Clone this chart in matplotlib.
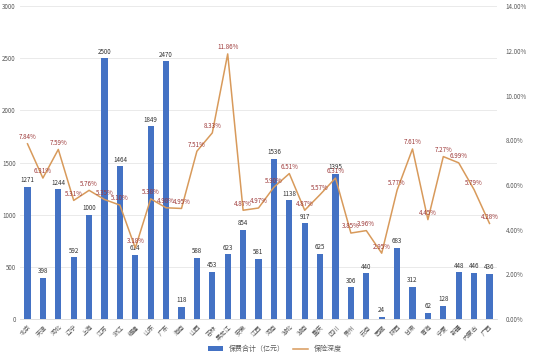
import matplotlib.pyplot as plt
import numpy as np
from matplotlib.ticker import FuncFormatter

plt.rcParams['font.family'] = ['Noto Sans CJK SC', 'DejaVu Sans']

provinces = ['北京', '天津', '河北', '辽宁', '上海', '江苏', '浙江', '福建', '山东', '广东',
             '海南', '山西', '吉林', '黑龙江', '安徽', '江西', '河南', '湖北', '湖南', '重庆',
             '四川', '贵州', '云南', '西藏', '陕西', '甘肃', '青海', '宁夏', '新疆', '内蒙古', '广西']
premium = [1271, 398, 1244, 592, 1000, 2500, 1464, 614, 1849, 2470,
           118, 588, 453, 623, 854, 581, 1536, 1138, 917, 625,
           1395, 306, 440, 24, 683, 312, 62, 128, 448, 446, 436]
depth = [7.84, 6.31, 7.59, 5.31, 5.76, 5.35, 5.10, 3.18, 5.38, 4.98,
         4.95, 7.51, 8.33, 11.86, 4.87, 4.97, 5.90, 6.51, 4.87, 5.57,
         6.31, 3.85, 3.96, 2.95, 5.77, 7.61, 4.45, 7.27, 6.99, 5.79, 4.28]

bar_color = '#4472C4'
line_color = '#D89A5B'
label_color = '#9E3B3B'
tick_color = '#595959'

fig = plt.figure(figsize=(5.5, 3.57), dpi=100)
ax = fig.add_axes([0.036, 0.106, 0.868, 0.877])
x = np.arange(len(provinces))

bars = ax.bar(x, premium, width=0.4, color=bar_color, label='保费合计（亿元）', zorder=2)
for xi, v in zip(x, premium):
    ax.text(xi, v + 25, str(v), ha='center', va='bottom', fontsize=4.5, color='#333333', zorder=5)

ax.set_ylim(0, 3000)
ax.set_xlim(-0.5, len(provinces) - 0.5)
ax.set_yticks(range(0, 3001, 500))
ax.yaxis.grid(True, color='#E6E6E6', linewidth=0.6, zorder=0)
ax.set_axisbelow(True)
ax.set_xticks(x)
ax.set_xticklabels(provinces, rotation=45, ha='right', fontsize=4.5, color=tick_color,
                   rotation_mode='anchor')
ax.tick_params(axis='both', length=0, labelsize=4.5, labelcolor=tick_color, pad=3)
for s in ax.spines.values():
    s.set_visible(False)
ax.spines['bottom'].set_visible(True)
ax.spines['bottom'].set_color('#D9D9D9')
ax.spines['bottom'].set_linewidth(0.6)

ax2 = ax.twinx()
line, = ax2.plot(x, depth, color=line_color, linewidth=1.1, label='保险深度', zorder=3)
for xi, v in zip(x, depth):
    ax2.text(xi, v + 0.12, f'{v:.2f}%', ha='center', va='bottom', fontsize=4.5,
             color=label_color, zorder=6)
ax2.set_ylim(0, 14)
ax2.set_yticks(range(0, 15, 2))
ax2.yaxis.set_major_formatter(FuncFormatter(lambda v, p: f'{v:.2f}%'))
ax2.tick_params(axis='y', length=0, labelsize=4.5, labelcolor=tick_color, pad=6)
for s in ax2.spines.values():
    s.set_visible(False)

fig.legend([bars, line], ['保费合计（亿元）', '保险深度'], loc='center', ncol=2,
           bbox_to_anchor=(0.5, 0.022), frameon=False, fontsize=5,
           handlelength=2.2, handleheight=0.6, columnspacing=1.2, labelcolor=tick_color)

fig.savefig('out.png', dpi=100)
